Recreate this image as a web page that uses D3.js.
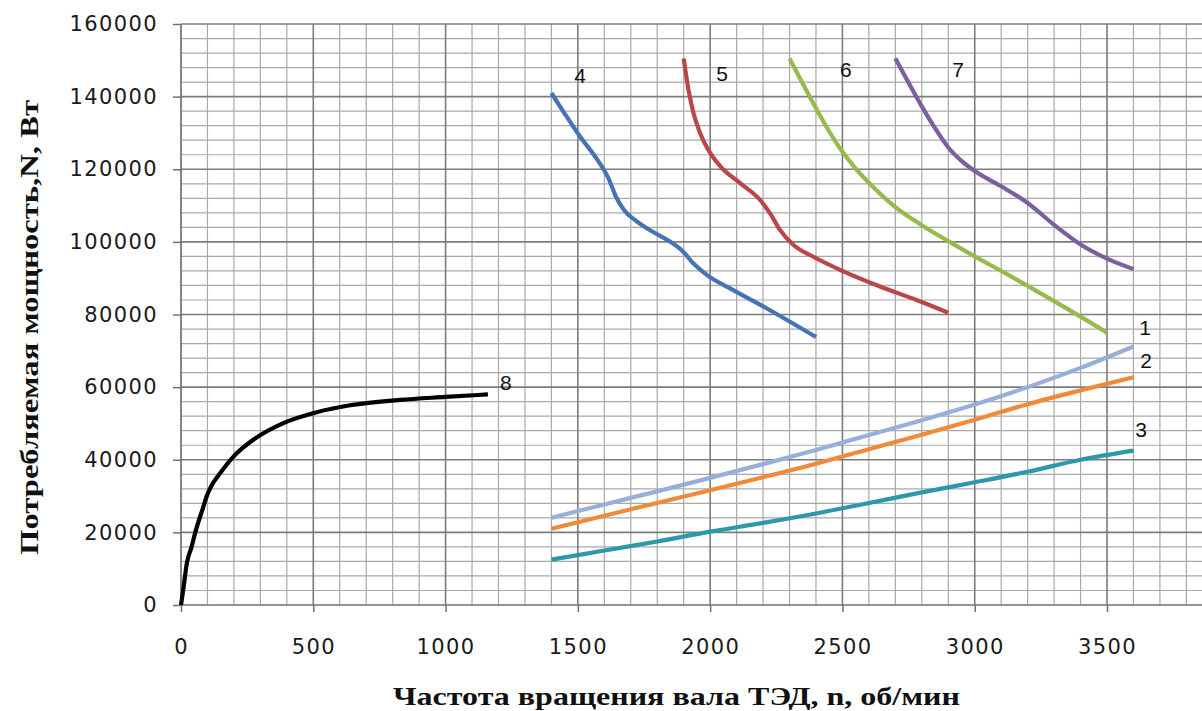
<!DOCTYPE html>
<html>
<head>
<meta charset="utf-8">
<script src="https://cdn.jsdelivr.net/npm/d3@7"></script>
<style>
  html, body { margin: 0; padding: 0; background: #ffffff; }
  svg { display: block; }
</style>
</head>
<body>
<svg id="chart" width="1202" height="711"></svg>
<script>
// ---------- DATA ----------
const xTickValues = [0, 500, 1000, 1500, 2000, 2500, 3000, 3500];
const yTickValues = [0, 20000, 40000, 60000, 80000, 100000, 120000, 140000, 160000];
const xTitle = "Частота вращения вала ТЭД, n, об/мин";
const yTitle = "Потребляемая мощность,N, Вт";

const curve1 = [[1400,24000],[1600,27700],[1800,31300],[2000,35000],[2200,38800],[2400,42700],[2600,46800],[2800,50900],[3000,55200],[3200,60000],[3400,65300],[3600,71200]];
const curve2 = [[1400,21000],[1600,24600],[1800,28100],[2000,31600],[2200,35200],[2400,38900],[2600,42900],[2800,46900],[3000,51000],[3200,55300],[3400,59100],[3600,62700]];
const curve3 = [[1400,12500],[1600,15000],[1800,17500],[2000,20200],[2200,22600],[2400,25200],[2600,28100],[2800,31000],[3000,33800],[3200,36700],[3400,40000],[3600,42500]];
const curve4 = [[1400,141000],[1445,135900],[1508,129000],[1571,122900],[1615,117600],[1645,112300],[1675,108700],[1720,105800],[1790,102500],[1848,100100],[1898,97300],[1936,94100],[1987,90900],[2075,87200],[2201,82200],[2302,78000],[2400,73800]];
const curve5 = [[1900,150500],[1918,141900],[1937,135500],[1962,130000],[2000,124500],[2044,120400],[2113,116200],[2188,111600],[2226,107900],[2264,103300],[2314,99200],[2390,95900],[2491,92300],[2642,87700],[2780,84000],[2900,80500]];
const curve6 = [[2300,150500],[2350,143600],[2400,136800],[2450,130400],[2500,124800],[2550,120200],[2600,116300],[2700,109600],[2800,104600],[2900,100200],[3000,96000],[3100,92000],[3200,87900],[3300,83700],[3400,79400],[3500,75000]];
const curve7 = [[2700,150500],[2750,143800],[2800,137300],[2850,131300],[2900,126000],[2950,122300],[3000,119500],[3100,115300],[3200,110700],[3300,104700],[3400,99300],[3500,95400],[3600,92500]];
const curve8 = [[0,0],[10,5000],[22,11500],[40,16000],[54,20000],[82,26500],[100,30500],[116,33000],[140,35500],[200,41000],[273,45500],[387,50100],[513,53100],[639,55000],[828,56500],[1000,57300],[1160,58000]];

const seriesNames = ["1","2","3","4","5","6","7","8"];
const seriesData = [curve1, curve2, curve3, curve4, curve5, curve6, curve7, curve8];
const seriesColors = ["#98afda","#ef8a3a","#2e97aa","#4673b6","#b9474a","#96ba4c","#7b5f9e","#000000"];
const labelX = [3644, 3648, 3629, 1508, 2045, 2513, 2937, 1228];
const labelY = [76000, 66900, 47900, 145400, 145700, 146800, 146800, 60600];

// ---------- LAYOUT ----------
const svg = d3.select("#chart");
const x = d3.scaleLinear().domain([0, 4000]).range([181, 1239.3]);
const y = d3.scaleLinear().domain([0, 160000]).range([605, 24]);

// grid
const gGrid = svg.append("g");
const minorX = d3.range(0, 4001, 100).filter(v => v % 500 !== 0);
const minorY = d3.range(0, 160001, 4000).filter(v => v % 20000 !== 0);
gGrid.selectAll("line.mx").data(minorX).join("line")
  .attr("x1", d => x(d)).attr("x2", d => x(d))
  .attr("y1", y(0)).attr("y2", y(160000))
  .attr("stroke", "#a9a9a9").attr("stroke-width", 1.2);
gGrid.selectAll("line.my").data(minorY).join("line")
  .attr("x1", x(0)).attr("x2", 1202)
  .attr("y1", d => y(d)).attr("y2", d => y(d))
  .attr("stroke", "#a9a9a9").attr("stroke-width", 1.2);
gGrid.selectAll("line.Mx").data(d3.range(500, 4001, 500)).join("line")
  .attr("x1", d => x(d)).attr("x2", d => x(d))
  .attr("y1", y(0)).attr("y2", y(160000))
  .attr("stroke", "#7c7c7c").attr("stroke-width", 1.6);
gGrid.selectAll("line.My").data(d3.range(20000, 160001, 20000)).join("line")
  .attr("x1", x(0)).attr("x2", 1202)
  .attr("y1", d => y(d)).attr("y2", d => y(d))
  .attr("stroke", "#7c7c7c").attr("stroke-width", 1.6);

// axes
const xAxis = d3.axisBottom(x).tickValues(xTickValues).tickSize(7).tickPadding(27).tickFormat(d3.format("d"));
const yAxis = d3.axisLeft(y).tickValues(yTickValues).tickSize(8).tickPadding(15).tickFormat(d3.format("d"));

const gx = svg.append("g").attr("transform", `translate(0,${y(0)})`).call(xAxis);
const gy = svg.append("g").attr("transform", `translate(${x(0)},0)`).call(yAxis);
[gx, gy].forEach(g => {
  g.select(".domain").attr("stroke", "#707070").attr("stroke-width", 1.7);
  g.selectAll(".tick line").attr("stroke", "#707070").attr("stroke-width", 1.5);
  g.selectAll(".tick text")
    .attr("fill", "#1a1a1a")
    .style("font-family", "'DejaVu Sans', Verdana, sans-serif")
    .style("font-size", "21px")
    .style("letter-spacing", "1.4px");
});
gx.select(".domain").attr("d", `M${x(0)},0H1202`);
gy.select(".domain").attr("d", `M0,${y(0)}V${y(160000)}`);

// lines
const line = d3.line().x(d => x(d[0])).y(d => y(d[1])).curve(d3.curveMonotoneX);
svg.append("g").selectAll("path").data(seriesData).join("path")
  .attr("d", d => line(d))
  .attr("fill", "none")
  .attr("stroke", (d, i) => seriesColors[i])
  .attr("stroke-width", 4.2)
  .attr("stroke-linecap", "butt")
  .attr("stroke-linejoin", "round");

// series labels
svg.append("g").selectAll("text").data(seriesNames).join("text")
  .attr("x", (d, i) => x(labelX[i]))
  .attr("y", (d, i) => y(labelY[i]))
  .attr("text-anchor", "middle")
  .attr("dominant-baseline", "middle")
  .style("font-family", "'Liberation Sans', Arial, sans-serif")
  .style("font-size", "21px")
  .attr("fill", "#111")
  .text(d => d);

// axis titles
svg.append("text")
  .attr("x", 393).attr("y", 705)
  .attr("textLength", 567).attr("lengthAdjust", "spacingAndGlyphs")
  .style("font-family", "'Liberation Serif', 'Times New Roman', serif")
  .style("font-weight", "bold")
  .style("font-size", "25px")
  .attr("fill", "#111")
  .text(xTitle);

svg.append("text")
  .attr("transform", "translate(38,555) rotate(-90)")
  .attr("x", 0).attr("y", 0)
  .attr("textLength", 455).attr("lengthAdjust", "spacingAndGlyphs")
  .style("font-family", "'Liberation Serif', 'Times New Roman', serif")
  .style("font-weight", "bold")
  .style("font-size", "25px")
  .attr("fill", "#111")
  .text(yTitle);
</script>
</body>
</html>
